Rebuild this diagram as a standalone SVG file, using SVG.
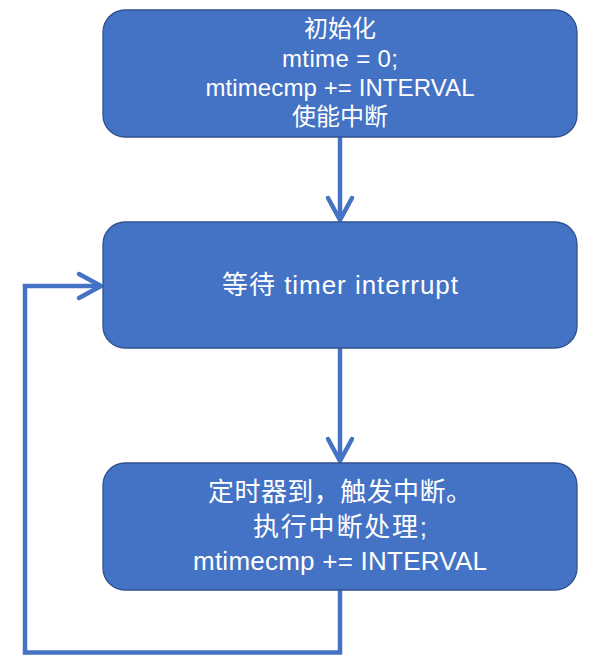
<svg xmlns="http://www.w3.org/2000/svg" width="590" height="662" viewBox="0 0 590 662">
<defs>
<style>
.box{fill:#4472C4;stroke:#2F528F;stroke-width:1.3}
.t{fill:#ffffff;font-family:"Liberation Sans","Noto Sans CJK SC",sans-serif;text-anchor:middle}
.c{fill:none;stroke:#4472C4;stroke-width:4.5;stroke-linejoin:miter}
</style>
<marker id="arr" markerUnits="userSpaceOnUse" markerWidth="40" markerHeight="40" refX="0" refY="0" viewBox="-30 -20 40 40" orient="auto" overflow="visible">
<path d="M-22,-12 L0,0 L-22,12" fill="none" stroke="#4472C4" stroke-width="4.5" stroke-linecap="round" stroke-linejoin="round"/>
</marker>
</defs>
<rect width="590" height="662" fill="#ffffff"/>
<g id="connectors">
<path class="c" d="M340,137 V220" marker-end="url(#arr)"/>
<path class="c" d="M340,348 V461" marker-end="url(#arr)"/>
<path class="c" d="M340,590 V652.5 H25 V286 H101" marker-end="url(#arr)"/>
</g>
<g id="init">
<rect class="box" x="103" y="10" width="474" height="127" rx="22"/>
<text class="t" font-size="24"><tspan x="340" y="37">初始化</tspan><tspan x="340" y="66.5" textLength="116" lengthAdjust="spacing">mtime = 0;</tspan><tspan x="340" y="95.5" textLength="269" lengthAdjust="spacing">mtimecmp += INTERVAL</tspan><tspan x="340" y="124.5">使能中断</tspan></text>
</g>
<g id="wait">
<rect class="box" x="103" y="222" width="474" height="126" rx="22"/>
<text class="t" font-size="26" x="340" y="294" textLength="236" lengthAdjust="spacing">等待 timer interrupt</text>
</g>
<g id="handle">
<rect class="box" x="103" y="463" width="474" height="127" rx="22"/>
<text class="t" font-size="26"><tspan x="340" y="501" textLength="264" lengthAdjust="spacing">定时器到，触发中断。</tspan><tspan x="340" y="536" textLength="174" lengthAdjust="spacing">执行中断处理;</tspan><tspan x="340" y="570" textLength="294" lengthAdjust="spacing">mtimecmp += INTERVAL</tspan></text>
</g>
</svg>
